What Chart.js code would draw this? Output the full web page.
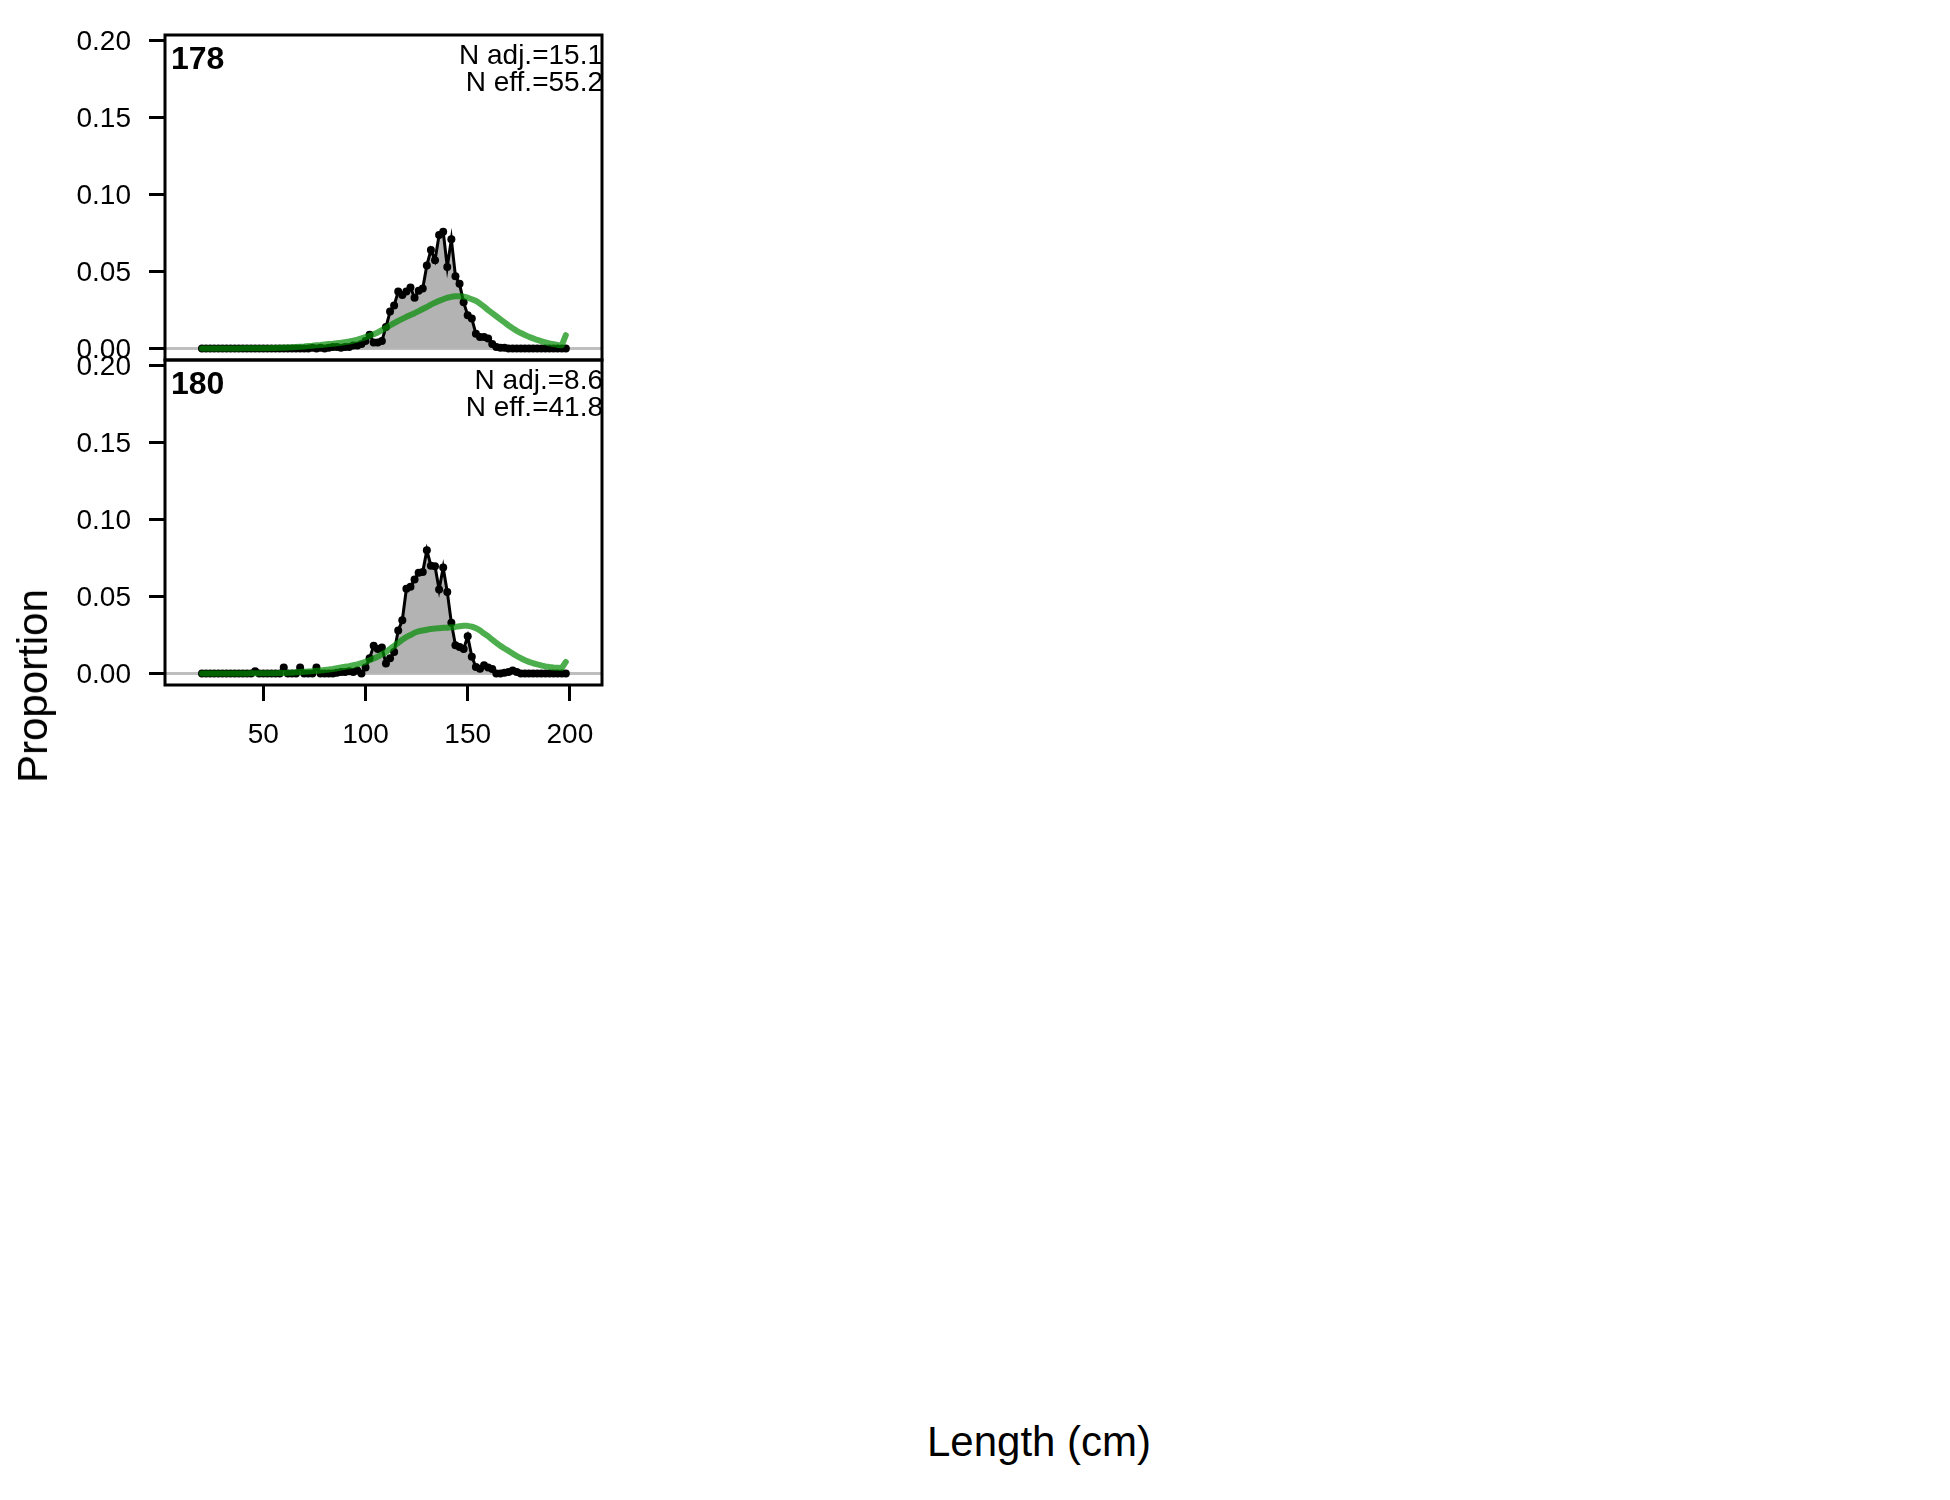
<!DOCTYPE html>
<html>
<head>
<meta charset="utf-8">
<title>Length compositions 178 / 180</title>
<script src="https://cdn.jsdelivr.net/npm/chart.js@4.4.1/dist/chart.umd.min.js"></script>
<style>
  body { margin: 0; background: #fff; font-family: "Liberation Sans", Arial, sans-serif; }
  #page { position: relative; width: 1950px; height: 1500px; overflow: hidden; background: #fff; }
  canvas { position: absolute; left: 0; }
  #c178 { top: 0; }
  #c180 { top: 330px; }
  .axis-title { position: absolute; font-size: 42px; line-height: 42px; color: #000; white-space: nowrap; }
  #ytitle { left: 33px; top: 686px; transform: translate(-50%, -50%) rotate(-90deg); }
  #xtitle { left: 1039px; top: 1442px; transform: translate(-50%, -50%); }
</style>
</head>
<body>
<div id="page">
  <canvas id="c178" width="620" height="400"></canvas>
  <canvas id="c180" width="620" height="450"></canvas>
  <div class="axis-title" id="ytitle">Proportion</div>
  <div class="axis-title" id="xtitle">Length (cm)</div>
</div>
<script>
// length bins (cm)
const lengthBins = [
  20, 22, 24, 26, 28, 30, 32, 34, 36, 38,
  40, 42, 44, 46, 48, 50, 52, 54, 56, 58,
  60, 62, 64, 66, 68, 70, 72, 74, 76, 78,
  80, 82, 84, 86, 88, 90, 92, 94, 96, 98,
  100, 102, 104, 106, 108, 110, 112, 114, 116, 118,
  120, 122, 124, 126, 128, 130, 132, 134, 136, 138,
  140, 142, 144, 146, 148, 150, 152, 154, 156, 158,
  160, 162, 164, 166, 168, 170, 172, 174, 176, 178,
  180, 182, 184, 186, 188, 190, 192, 194, 196, 198
];

// panel 178
const obs178 = [
  0, 0, 0, 0, 0, 0, 0, 0, 0, 0,
  0, 0, 0, 0, 0, 0, 0, 0, 0, 0,
  0, 0, 0, 0, 0, 0, 0, 0.0005, 0, 0.0005,
  0, 0.0005, 0.001, 0.001, 0.0005, 0.001, 0.001, 0.002, 0.002, 0.003,
  0.005, 0.009, 0.004, 0.004, 0.005, 0.014, 0.024, 0.028, 0.037, 0.0347,
  0.037, 0.0397, 0.033, 0.0375, 0.039, 0.054, 0.064, 0.0574, 0.0737, 0.0759,
  0.053, 0.0709, 0.047, 0.042, 0.030, 0.0217, 0.0195, 0.0097, 0.0076, 0.0076,
  0.0065, 0.003, 0.001, 0.0005, 0.0005, 0, 0, 0, 0, 0,
  0, 0, 0, 0, 0, 0, 0, 0, 0, 0
];
const exp178 = [
  0.0001, 0.0001, 0.0001, 0.0001, 0.0001, 0.0001, 0.0001, 0.0001, 0.0001, 0.0001,
  0.0002, 0.0002, 0.0002, 0.0002, 0.0003, 0.0003, 0.0003, 0.0004, 0.0004, 0.0005,
  0.0005, 0.0007, 0.0008, 0.001, 0.0012, 0.0014, 0.0017, 0.0019, 0.0022, 0.0024,
  0.0027, 0.003, 0.0032, 0.0035, 0.0038, 0.0042, 0.0046, 0.0052, 0.0058, 0.0066,
  0.0075, 0.0084, 0.0093, 0.0105, 0.012, 0.0135, 0.015, 0.0165, 0.018, 0.0193,
  0.0206, 0.0218, 0.023, 0.0243, 0.0257, 0.027, 0.0285, 0.0298, 0.031, 0.032,
  0.033, 0.0336, 0.034, 0.034, 0.0338, 0.033, 0.032, 0.031, 0.0292, 0.0272,
  0.025, 0.023, 0.021, 0.019, 0.017, 0.015, 0.0132, 0.0115, 0.0101, 0.0088,
  0.0076, 0.0066, 0.0056, 0.0048, 0.0041, 0.0034, 0.0029, 0.0024, 0.0021, 0.0087
];

// panel 180
const obs180 = [
  0, 0, 0, 0, 0, 0, 0, 0, 0, 0,
  0, 0, 0, 0.0015, 0, 0, 0, 0, 0, 0,
  0.004, 0, 0, 0, 0.004, 0, 0, 0, 0.004, 0,
  0, 0, 0, 0.0005, 0.001, 0.001, 0.0015, 0.001, 0.002, 0,
  0.004, 0.010, 0.018, 0.016, 0.017, 0.0065, 0.010, 0.014, 0.028, 0.0346,
  0.055, 0.0563, 0.061, 0.0654, 0.066, 0.080, 0.070, 0.0697, 0.0545, 0.0688,
  0.053, 0.033, 0.0184, 0.0173, 0.016, 0.0242, 0.011, 0.0043, 0.0032, 0.0054,
  0.004, 0.003, 0, 0, 0.0005, 0.001, 0.002, 0.001, 0, 0,
  0, 0, 0, 0, 0, 0, 0, 0, 0, 0
];
const exp180 = [
  0.0001, 0.0001, 0.0001, 0.0001, 0.0001, 0.0001, 0.0001, 0.0001, 0.0001, 0.0001,
  0.0001, 0.0001, 0.0002, 0.0002, 0.0002, 0.0002, 0.0003, 0.0003, 0.0003, 0.0004,
  0.0004, 0.0005, 0.0006, 0.0008, 0.001, 0.0012, 0.0014, 0.0016, 0.0018, 0.002,
  0.0023, 0.0026, 0.003, 0.0035, 0.004, 0.0044, 0.0048, 0.0054, 0.006, 0.0068,
  0.0076, 0.0087, 0.0098, 0.011, 0.0125, 0.014, 0.016, 0.018, 0.020, 0.022,
  0.0238, 0.025, 0.0265, 0.0275, 0.028, 0.0285, 0.029, 0.0292, 0.0295, 0.0297,
  0.0298, 0.030, 0.0303, 0.0307, 0.031, 0.031, 0.0305, 0.0295, 0.028, 0.026,
  0.0242, 0.022, 0.020, 0.018, 0.0163, 0.0147, 0.013, 0.0114, 0.010, 0.0087,
  0.0076, 0.0067, 0.006, 0.0053, 0.0047, 0.0043, 0.004, 0.0038, 0.0036, 0.0076
];

const yTicks = [0, 0.05, 0.10, 0.15, 0.20];
const xTicks = [50, 100, 150, 200];

const FONT = '"Liberation Sans", Arial, sans-serif';
Chart.defaults.font.family = FONT;
Chart.defaults.color = '#000';

function points(ys) {
    return lengthBins.map((x, i) => ({ x: x, y: ys[i] }));
}

// black box round the plot area
const framePlugin = {
    id: 'frame',
    afterDatasetsDraw(chart) {
        const { ctx, chartArea: a } = chart;
        ctx.save();
        ctx.strokeStyle = '#000';
        ctx.lineWidth = 3;
        ctx.strokeRect(a.left, a.top, a.right - a.left, a.bottom - a.top);
        ctx.restore();
    }
};

// panel number and N text
const panelText = {
    id: 'panelText',
    afterDraw(chart, args, opts) {
        const { ctx, chartArea: a } = chart;
        ctx.save();
        ctx.fillStyle = '#000';
        ctx.textBaseline = 'alphabetic';
        ctx.font = 'bold 32px ' + FONT;
        ctx.textAlign = 'left';
        ctx.fillText(opts.label, a.left + 6, a.top + 34);
        ctx.font = '28px ' + FONT;
        ctx.textAlign = 'right';
        ctx.fillText(opts.line1, a.right + 1, a.top + 29);
        ctx.fillText(opts.line2, a.right + 1, a.top + 56);
        ctx.restore();
    }
};

function makePanel(id, obs, exp, label, line1, line2, showX, padTop, padBottom, xHeight) {
    const ctx = document.getElementById(id).getContext('2d');
    return new Chart(ctx, {
        type: 'line',
        data: {
            datasets: [
                {
                    label: 'expected',
                    data: points(exp),
                    borderColor: 'rgba(0, 140, 0, 0.7)',
                    borderWidth: 6,
                    borderCapStyle: 'round',
                    borderJoinStyle: 'round',
                    pointRadius: 0,
                    fill: false,
                    order: 0
                },
                {
                    label: 'observed',
                    data: points(obs),
                    borderColor: '#000',
                    borderWidth: 3,
                    backgroundColor: '#b3b3b3',
                    fill: 'origin',
                    pointRadius: 4,
                    pointBackgroundColor: '#000',
                    pointBorderWidth: 0,
                    order: 1
                }
            ]
        },
        options: {
            responsive: false,
            animation: false,
            layout: { padding: { top: padTop, bottom: padBottom, left: 0, right: 18 } },
            plugins: {
                legend: { display: false },
                tooltip: { enabled: false },
                panelText: { label: label, line1: line1, line2: line2 }
            },
            scales: {
                x: {
                    type: 'linear',
                    min: 1.9,
                    max: 215.7,
                    display: showX,
                    afterBuildTicks: s => { s.ticks = xTicks.map(v => ({ value: v })); },
                    afterFit: s => { s.height = xHeight; s.paddingLeft = 0; s.paddingRight = 0; },
                    border: { display: false },
                    grid: { drawOnChartArea: false, tickColor: '#000', tickWidth: 3, tickLength: 16 },
                    ticks: { font: { size: 28 }, color: '#000', padding: 17, maxRotation: 0, autoSkip: false }
                },
                y: {
                    min: -0.0074,
                    max: 0.2035,
                    afterBuildTicks: s => { s.ticks = yTicks.map(v => ({ value: v })); },
                    afterFit: s => { s.width = 165; s.paddingTop = 0; s.paddingBottom = 0; },
                    border: { display: false },
                    grid: {
                        color: c => (c.tick && c.tick.value === 0) ? '#bebebe' : 'rgba(0,0,0,0)',
                        lineWidth: 3,
                        tickColor: '#000',
                        tickWidth: 3,
                        tickLength: 16
                    },
                    ticks: {
                        font: { size: 28 },
                        color: '#000',
                        padding: 18,
                        labelOffset: 2,
                        callback: v => v.toFixed(2)
                    }
                }
            }
        },
        plugins: [framePlugin, panelText]
    });
}

makePanel('c178', obs178, exp178, '178', 'N adj.=15.1', 'N eff.=55.2', false, 35, 40, 0);
makePanel('c180', obs180, exp180, '180', 'N adj.=8.6', 'N eff.=41.8', true, 30, 0, 95);
</script>
</body>
</html>
